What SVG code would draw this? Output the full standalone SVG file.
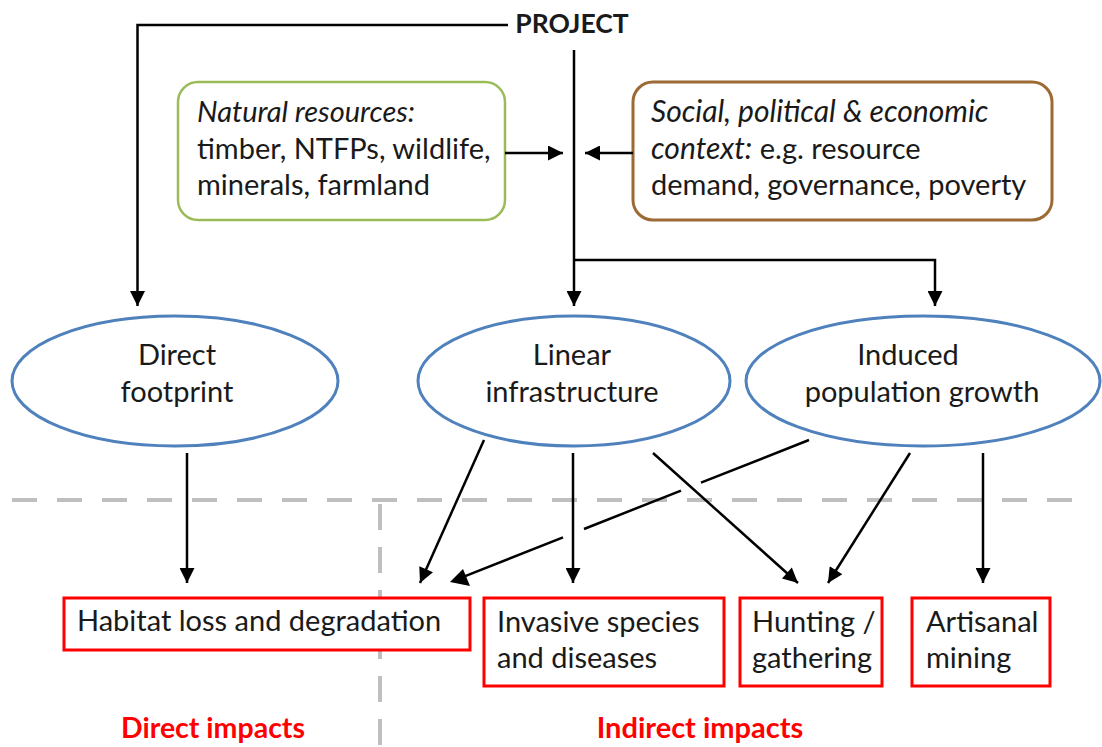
<svg xmlns="http://www.w3.org/2000/svg" width="1102" height="747" viewBox="0 0 1102 747">
<style>
text{font-family:Lato,"Liberation Sans",sans-serif;font-size:29px;fill:#1a1a1a}
.b{font-weight:bold}
.i{font-style:italic}
.red{fill:#ff0000;font-weight:bold;font-size:28.5px}
.ell{fill:#fff;stroke:#4f81bd;stroke-width:3}
.imp{fill:#fff;stroke:#ff0000;stroke-width:3}
.c{fill:none;stroke:#000;stroke-width:2.5}
.dash{fill:none;stroke:#bfbfbf;stroke-width:4;stroke-dasharray:25 20}
</style>
<defs>
<marker id="ah" viewBox="0 0 10 10" refX="10" refY="5" markerWidth="6.4" markerHeight="6" markerUnits="strokeWidth" orient="auto">
<path d="M0,0 L10,5 L0,10 z" fill="#000"/>
</marker>
</defs>
<rect width="1102" height="747" fill="#fff"/>
<g id="dividers">
<line class="dash" x1="12" y1="500" x2="1072" y2="500"/>
<line class="dash" x1="380" y1="504" x2="380" y2="747" style="stroke-dasharray:26 17"/>
</g>
<g id="project"><text class="b" x="572" y="33" text-anchor="middle" style="font-size:26.5px">PROJECT</text></g>
<g id="natural">
<rect x="178" y="82" width="327" height="138" rx="20" fill="#fff" stroke="#9bbb59" stroke-width="2.5"/>
<text x="197" y="122"><tspan class="i">Natural resources:</tspan></text>
<text x="197" y="159">timber, NTFPs, wildlife,</text>
<text x="197" y="195">minerals, farmland</text>
</g>
<g id="context">
<rect x="633" y="82" width="419" height="138" rx="20" fill="#fff" stroke="#9c6a35" stroke-width="3"/>
<text x="651" y="122" class="i" style="font-size:30px">Social, political &amp; economic</text>
<text x="651" y="159"><tspan class="i" style="font-size:30px">context:</tspan> e.g. resource</text>
<text x="651" y="195">demand, governance, poverty</text>
</g>
<g id="direct-footprint">
<ellipse class="ell" cx="175" cy="381" rx="163" ry="65"/>
<text x="177" y="365" text-anchor="middle">Direct</text>
<text x="177" y="402" text-anchor="middle">footprint</text>
</g>
<g id="linear">
<ellipse class="ell" cx="574" cy="381" rx="156" ry="65"/>
<text x="572" y="365" text-anchor="middle">Linear</text>
<text x="572" y="402" text-anchor="middle">infrastructure</text>
</g>
<g id="induced">
<ellipse class="ell" cx="923" cy="381" rx="177" ry="65"/>
<text x="908" y="365" text-anchor="middle">Induced</text>
<text x="922" y="402" text-anchor="middle">population growth</text>
</g>
<g id="habitat">
<rect class="imp" x="64" y="598" width="406" height="52"/>
<text x="77" y="631">Habitat loss and degradation</text>
</g>
<g id="invasive">
<rect class="imp" x="484" y="598" width="240" height="88"/>
<text x="497" y="632">Invasive species</text>
<text x="497" y="668">and diseases</text>
</g>
<g id="hunting">
<rect class="imp" x="740" y="598" width="142" height="88"/>
<text x="752" y="632">Hunting /</text>
<text x="752" y="668">gathering</text>
</g>
<g id="artisanal">
<rect class="imp" x="912" y="598" width="138" height="88"/>
<text x="926" y="632">Artisanal</text>
<text x="926" y="668">mining</text>
</g>
<g id="labels">
<text class="red" x="213" y="738" text-anchor="middle">Direct impacts</text>
<text class="red" x="700" y="738" text-anchor="middle" style="font-size:29px">Indirect impacts</text>
</g>
<g id="connectors">
<path class="c" d="M508,25 H137.5 V306" marker-end="url(#ah)"/>
<path class="c" d="M574,50 V306" marker-end="url(#ah)"/>
<path class="c" d="M574,260 H935 V306" marker-end="url(#ah)"/>
<path class="c" d="M505,153 H563" marker-end="url(#ah)"/>
<path class="c" d="M633,153 H585" marker-end="url(#ah)"/>
<path class="c" d="M187,453 V583" marker-end="url(#ah)"/>
<path class="c" d="M484,440 L420,583" marker-end="url(#ah)"/>
<path class="c" d="M573,453 V583" marker-end="url(#ah)"/>
<path class="c" d="M653,453 L798,583" marker-end="url(#ah)"/>
<path class="c" d="M910,453 L828,583" marker-end="url(#ah)"/>
<path class="c" d="M983,453 V583" marker-end="url(#ah)"/>
<path class="c" d="M809,440 L701,482.7 M681,490.6 L584,529 M563,537.3 L462,577.3" />
<path d="M450,582 L463,569 L470,586 z" fill="#000"/>
</g>
</svg>
